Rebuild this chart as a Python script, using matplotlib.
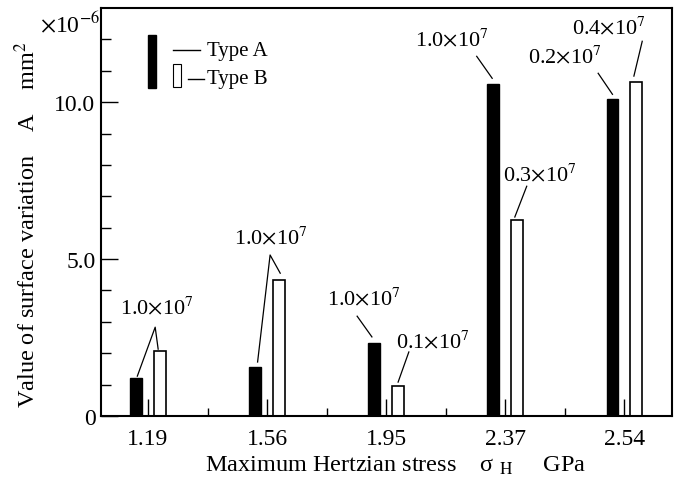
import numpy as np
import matplotlib.pyplot as plt
from matplotlib.patches import Rectangle
from matplotlib.lines import Line2D

plt.rcParams['font.family'] = ['Liberation Serif', 'DejaVu Serif']
plt.rcParams['mathtext.fontset'] = 'stix'

# --- data ---
stress_labels = ["1.19", "1.56", "1.95", "2.37", "2.54"]
type_a = [1.21, 1.56, 2.32, 10.57, 10.10]
type_b = [2.07, 4.33, 0.96, 6.24, 10.64]
cycles_a = ["1.0", "1.0", "1.0", "1.0", "0.2"]
cycles_b = ["1.0", "1.0", "0.1", "0.3", "0.4"]

x = np.arange(len(stress_labels))
w = 0.1
off = 0.1

fig = plt.figure(figsize=(6.8, 4.81), dpi=100)
ax = fig.add_axes([101 / 680, 1 - 417 / 481, 571 / 680, 408 / 481])

ax.bar(x - off, type_a, width=w, color="black", edgecolor="black", linewidth=1.0)
ax.bar(x + off, type_b, width=w, color="white", edgecolor="black", linewidth=1.2)

ax.set_xlim(-0.395, 4.4)
ax.set_ylim(0, 13)

ax.set_xticks(x)
ax.set_xticklabels(stress_labels)
ax.set_xticks(x[:-1] + 0.5, minor=True)
ax.set_yticks([0, 5, 10])
ax.set_yticklabels(["0", "5.0", "10.0"])
ax.set_yticks(np.arange(1, 13), minor=True)
ax.tick_params(axis="x", which="major", direction="in", length=12, width=1.0, labelsize=17, pad=9)
ax.tick_params(axis="x", which="minor", direction="in", length=6, width=1.0)
ax.tick_params(axis="y", which="major", direction="in", length=12, width=1.0, labelsize=17, pad=4)
ax.tick_params(axis="y", which="minor", direction="in", length=7, width=1.0)
for s in ax.spines.values():
    s.set_linewidth(1.5)

def lab(v):
    return v + r"$\times$10$^{7}$"

fs = 16
# shared labels (text pos, line start, line ends)
ax.text(0.076, 3.47, lab(cycles_a[0]), ha="center", va="center", fontsize=fs)
ax.plot([-0.09, 0.06, 0.085], [1.27, 2.83, 2.13], color="black", lw=0.9)
ax.text(1.03, 5.70, lab(cycles_a[1]), ha="center", va="center", fontsize=fs)
ax.plot([0.92, 1.025, 1.11], [1.72, 5.13, 4.55], color="black", lw=0.9)

# individual labels: (text x, text y, line x0, y0, x1, y1)
singles = [
    (1.815, 3.76, 1.756, 3.18, 1.88, 2.52, lab(cycles_a[2])),
    (2.39, 2.39, 2.19, 2.04, 2.10, 1.08, lab(cycles_b[2])),
    (2.55, 12.0, 2.76, 11.46, 2.89, 10.76, lab(cycles_a[3])),
    (3.29, 7.71, 3.18, 7.32, 3.08, 6.34, lab(cycles_b[3])),
    (3.50, 11.46, 3.78, 10.92, 3.90, 10.25, lab(cycles_a[4])),
    (3.87, 12.39, 4.15, 11.94, 4.08, 10.83, lab(cycles_b[4])),
]
for tx, ty, x0, y0, x1, y1, s in singles:
    ax.text(tx, ty, s, ha="center", va="center", fontsize=fs)
    ax.plot([x0, x1], [y0, y1], color="black", lw=0.9)

# legend drawn by hand
tr = ax.transAxes
ax.add_patch(Rectangle((0.082, 0.804), 0.014, 0.130, transform=tr,
                       facecolor="black", edgecolor="black"))
ax.add_line(Line2D([0.126, 0.173], [0.897, 0.897], transform=tr, color="black", lw=1.0))
ax.text(0.185, 0.897, "Type A", transform=tr, ha="left", va="center", fontsize=15)
ax.add_patch(Rectangle((0.126, 0.806), 0.014, 0.057, transform=tr,
                       facecolor="white", edgecolor="black", lw=0.8))
ax.add_line(Line2D([0.152, 0.180], [0.826, 0.826], transform=tr, color="black", lw=1.0))
ax.text(0.185, 0.826, "Type B", transform=tr, ha="left", va="center", fontsize=15)

fig.text(0.04, 0.532, "Value of surface variation    A    mm$^{2}$",
         rotation=90, ha="center", va="center", fontsize=17.5)
fig.text(0.147, 0.948, r"$\times$10$^{-6}$", ha="right", va="center", fontsize=17)
fig.text(0.582, 0.031, "Maximum Hertzian stress    σ $_{\\mathrm{H}}$     GPa",
         ha="center", va="center", fontsize=17.5)

fig.savefig("out.png", dpi=100)
